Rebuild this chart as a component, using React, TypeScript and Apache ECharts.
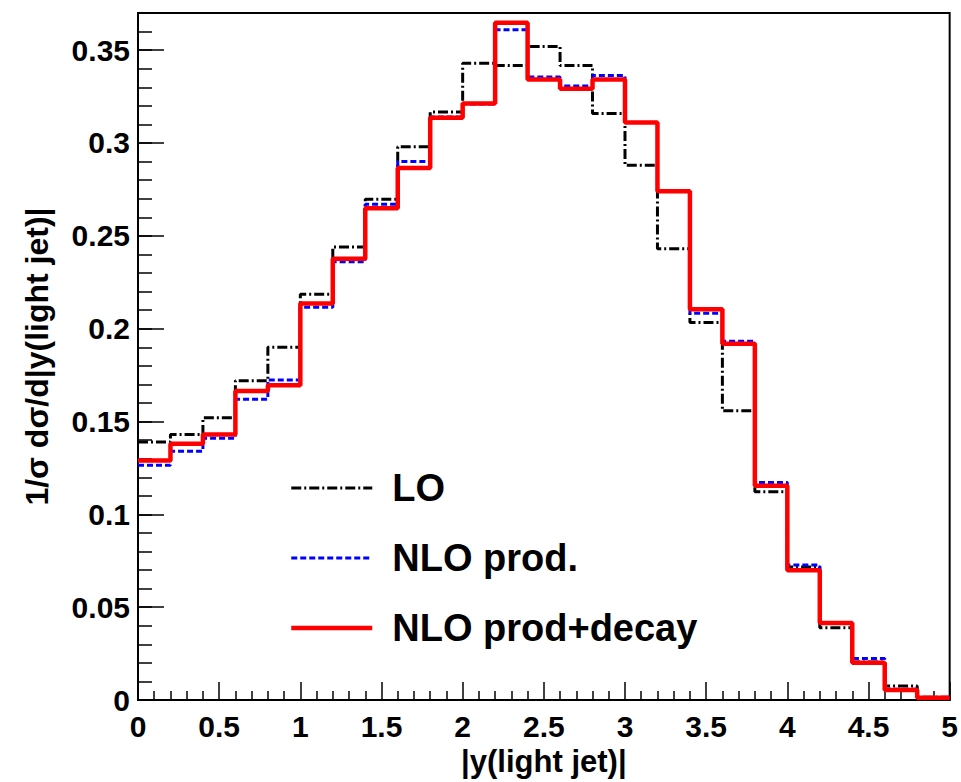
import React, { useEffect, useRef } from "react";
import * as echarts from "echarts";

const binEdges = [0, 0.2, 0.4, 0.6, 0.8, 1.0, 1.2, 1.4, 1.6, 1.8, 2.0, 2.2, 2.4, 2.6, 2.8, 3.0, 3.2, 3.4, 3.6, 3.8, 4.0, 4.2, 4.4, 4.6, 4.8, 5.0];

const loValues = [0.139, 0.143, 0.152, 0.172, 0.19, 0.2186, 0.244, 0.2697, 0.298, 0.3167, 0.343, 0.3417, 0.352, 0.3417, 0.3159, 0.288, 0.243, 0.2033, 0.1558, 0.1122, 0.0717, 0.039, 0.0205, 0.0076, 0.0015];

const nloProdValues = [0.1265, 0.134, 0.141, 0.162, 0.1724, 0.2115, 0.236, 0.267, 0.29, 0.314, 0.321, 0.361, 0.3356, 0.3307, 0.3363, 0.311, 0.274, 0.2083, 0.1932, 0.1172, 0.0727, 0.0415, 0.0224, 0.0058, 0.0012];

const nloDecayValues = [0.129, 0.138, 0.143, 0.1665, 0.1695, 0.2136, 0.2376, 0.2649, 0.2866, 0.3136, 0.3212, 0.3648, 0.3342, 0.3292, 0.3342, 0.311, 0.274, 0.2105, 0.1919, 0.1154, 0.0699, 0.0415, 0.0201, 0.0055, 0.0012];

const seriesNames = ["LO", "NLO prod.", "NLO prod+decay"];

const FONT = "'Liberation Sans', Arial, Helvetica, sans-serif";

const loLine = { color: "#000", width: 3, type: [10, 3, 2, 3] as number[] };
const prodLine = { color: "#0000ff", width: 3, type: [6, 3] as number[] };
const decayLine = { color: "#ff0000", width: 4.5, type: "solid" };

function stepData(vals: number[]) {
  const pts = vals.map((v, i) => [binEdges[i], v]);
  pts.push([binEdges[vals.length], vals[vals.length - 1]]);
  return pts;
}

export default function App() {
  const ref = useRef<HTMLDivElement>(null);
  useEffect(() => {
    if (!ref.current) return;
    const chart = echarts.init(ref.current, null, { renderer: "svg" });
    const axisCommon = {
      min: 0,
      splitLine: { show: false },
    };
    chart.setOption({
      animation: false,
      backgroundColor: "#ffffff",
      grid: {
        left: 138,
        top: 13,
        width: 813,
        height: 694,
        show: true,
        borderColor: "#000",
        borderWidth: 2,
        backgroundColor: "transparent",
      },
      legend: {
        orient: "vertical",
        left: 289,
        top: 468,
        padding: 0,
        itemWidth: 81,
        itemHeight: 14,
        itemGap: 30,
        itemStyle: { opacity: 0 },
        data: [
          { name: seriesNames[0], lineStyle: loLine },
          { name: seriesNames[1], lineStyle: prodLine },
          { name: seriesNames[2], lineStyle: decayLine },
        ],
        textStyle: {
          fontFamily: FONT,
          fontWeight: "bold",
          fontSize: 38,
          lineHeight: 40,
          color: "#000",
          padding: [0, 0, 0, 15],
        },
      },
      xAxis: {
        ...axisCommon,
        type: "value",
        max: 5,
        interval: 0.5,
        name: "|y(light jet)|",
        nameLocation: "middle",
        nameGap: 41,
        nameTextStyle: { fontFamily: FONT, fontWeight: "bold", fontSize: 31, color: "#000" },
        axisLine: { show: true, onZero: false, lineStyle: { color: "#000", width: 2 } },
        axisTick: { show: true, inside: true, length: 18, lineStyle: { color: "#000", width: 1.5 } },
        minorTick: { show: true, splitNumber: 5, length: 9, lineStyle: { color: "#000", width: 1.5 } },
        axisLabel: { fontFamily: FONT, fontWeight: "bold", fontSize: 30, color: "#000", margin: 11 },
      },
      yAxis: [
        {
          ...axisCommon,
          type: "value",
          max: 0.37,
          interval: 0.05,
          position: "left",
          name: "1/σ dσ/d|y(light jet)|",
          nameLocation: "middle",
          nameGap: 85,
          nameTextStyle: { fontFamily: FONT, fontWeight: "bold", fontSize: 32, color: "#000" },
          axisLine: { show: true, onZero: false, lineStyle: { color: "#000", width: 2 } },
          axisTick: { show: true, inside: true, length: 26, lineStyle: { color: "#000", width: 1.5 } },
          axisLabel: {
            fontFamily: FONT,
            fontWeight: "bold",
            fontSize: 30,
            color: "#000",
            margin: 8,
            showMaxLabel: false,
          },
        },
        {
          ...axisCommon,
          type: "value",
          max: 0.37,
          interval: 0.01,
          position: "left",
          axisLine: { show: false },
          axisTick: { show: true, inside: true, length: 14, lineStyle: { color: "#000", width: 1.5 } },
          axisLabel: { show: false },
        },
      ],
      series: [
        {
          name: seriesNames[0],
          type: "line",
          step: "end",
          symbol: "none",
          data: stepData(loValues),
          lineStyle: loLine,
          itemStyle: { color: "#000" },
          z: 2,
        },
        {
          name: seriesNames[1],
          type: "line",
          step: "end",
          symbol: "none",
          data: stepData(nloProdValues),
          lineStyle: prodLine,
          itemStyle: { color: "#0000ff" },
          z: 3,
        },
        {
          name: seriesNames[2],
          type: "line",
          step: "end",
          symbol: "none",
          data: stepData(nloDecayValues),
          lineStyle: decayLine,
          itemStyle: { color: "#ff0000" },
          z: 4,
        },
      ],
    });
    return () => chart.dispose();
  }, []);
  return (
    <div
      ref={ref}
      style={{ position: "absolute", left: 0, top: 0, width: 961, height: 782, background: "#fff" }}
    />
  );
}
